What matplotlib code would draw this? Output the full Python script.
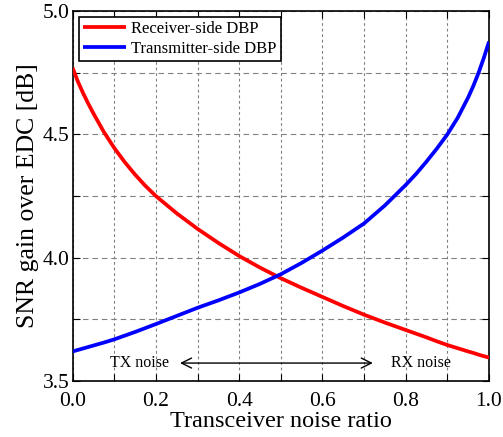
import matplotlib
matplotlib.use("Agg")
import matplotlib.pyplot as plt
from matplotlib.ticker import MultipleLocator

plt.rcParams['font.family'] = ['Liberation Serif', 'DejaVu Serif']
plt.rcParams['mathtext.fontset'] = 'stix'

x = [0.0, 0.0125, 0.025, 0.0375, 0.05, 0.075, 0.1, 0.125, 0.15, 0.175, 0.2, 0.25, 0.3,
     0.35, 0.4, 0.45, 0.5, 0.55, 0.6, 0.65, 0.7, 0.75, 0.8, 0.825, 0.85, 0.875, 0.9,
     0.925, 0.95, 0.9625, 0.975, 0.9875, 1.0]
rx_dbp = [4.77, 4.715, 4.668, 4.625, 4.585, 4.51, 4.445, 4.388, 4.337, 4.291, 4.25, 4.18, 4.117,
          4.06, 4.007, 3.96, 3.917, 3.878, 3.841, 3.804, 3.769, 3.737, 3.707, 3.692, 3.677,
          3.661, 3.646, 3.633, 3.62, 3.614, 3.607, 3.601, 3.595]
tx_dbp = [3.62, 3.626, 3.632, 3.638, 3.644, 3.656, 3.669, 3.684, 3.699, 3.715, 3.731, 3.764,
          3.797, 3.827, 3.859, 3.894, 3.933, 3.979, 4.029, 4.082, 4.139, 4.212, 4.295, 4.34,
          4.39, 4.443, 4.50, 4.568, 4.65, 4.697, 4.75, 4.81, 4.876]
labels = ["Receiver-side DBP", "Transmitter-side DBP"]

fig = plt.figure(figsize=(5.03, 4.37), dpi=100)
ax = fig.add_axes([0.1443, 0.128, 0.8279, 0.8468])

ax.plot(x, rx_dbp, color='#ff0000', lw=2.7, label=labels[0], zorder=3,
        solid_joinstyle='round', solid_capstyle='butt')
ax.plot(x, tx_dbp, color='#0000ff', lw=2.7, label=labels[1], zorder=3,
        solid_joinstyle='round', solid_capstyle='butt')

ax.set_xlim(0, 1)
ax.set_ylim(3.5, 5.0)
ax.xaxis.set_major_locator(MultipleLocator(0.2))
ax.xaxis.set_minor_locator(MultipleLocator(0.1))
ax.yaxis.set_major_locator(MultipleLocator(0.5))
ax.yaxis.set_minor_locator(MultipleLocator(0.25))
ax.tick_params(which='both', direction='in', top=True, right=True, labelsize=15.5)
ax.tick_params(which='major', length=5, width=0.8)
ax.tick_params(which='minor', length=5, width=0.8)
ax.tick_params(axis='x', which='major', pad=8)
ax.tick_params(axis='y', which='major', pad=2)
ax.xaxis.set_major_formatter(plt.FuncFormatter(lambda v, p: f"{v:.1f}"))
ax.yaxis.set_major_formatter(plt.FuncFormatter(lambda v, p: f"{v:.1f}"))

ax.grid(True, which='both', axis='x', color='#808080', ls=(0, (2.5, 2.5)), lw=0.8)
ax.grid(True, which='both', axis='y', color='#808080', ls=(0, (5, 3.5)), lw=0.8)
ax.set_axisbelow(True)
for s in ax.spines.values():
    s.set_linewidth(1.2)

ax.set_xlabel("Transceiver noise ratio", fontsize=17.5, labelpad=0)
ax.set_ylabel("SNR gain over EDC [dB]", fontsize=18.5, labelpad=3)

ax.annotate("", xy=(0.258, 3.573), xytext=(0.721, 3.573),
            arrowprops=dict(arrowstyle='<->', color='black', lw=1.0,
                            mutation_scale=18, shrinkA=0, shrinkB=0))
ax.text(0.16, 3.573, "TX noise", ha='center', va='center', fontsize=11.5)
ax.text(0.836, 3.573, "RX noise", ha='center', va='center', fontsize=11.5)

leg = ax.legend(loc='upper left', bbox_to_anchor=(0.015, 0.985), fontsize=12,
                frameon=True, fancybox=False, edgecolor='black', framealpha=1,
                handlelength=2.6, borderpad=0.25, labelspacing=0.25, handletextpad=0.3,
                borderaxespad=0)
leg.get_frame().set_linewidth(1.2)

fig.savefig("out.png", dpi=100)
